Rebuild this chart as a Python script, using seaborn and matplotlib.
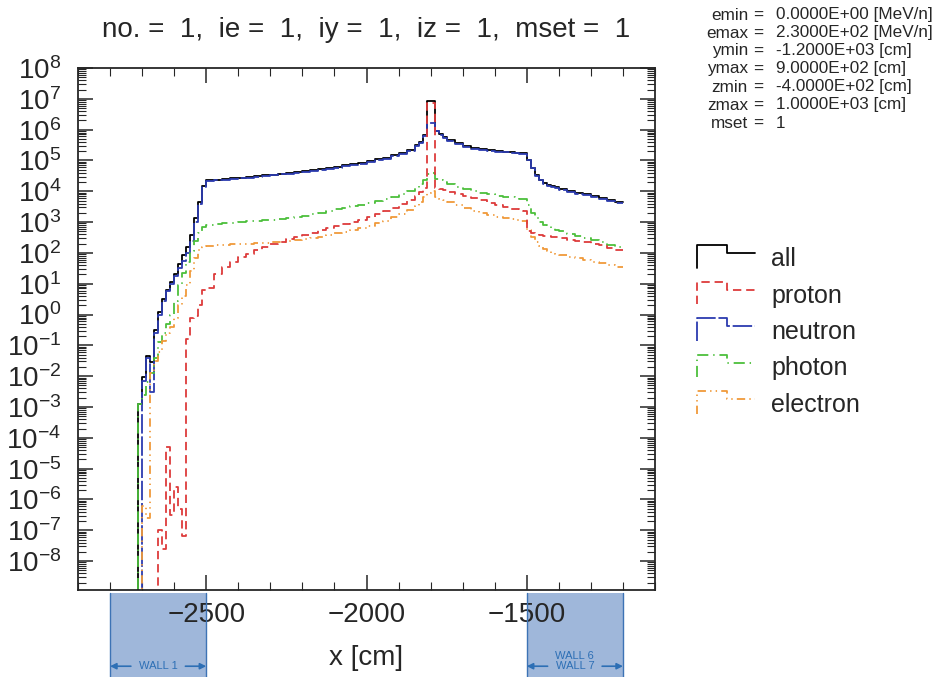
import numpy as np
import matplotlib
matplotlib.use("Agg")
import matplotlib.pyplot as plt
import matplotlib.transforms as mtransforms
from matplotlib.lines import Line2D
from matplotlib.legend_handler import HandlerLine2D
from matplotlib.patches import Rectangle
from matplotlib.ticker import FixedLocator, LogLocator, MultipleLocator, NullFormatter
import seaborn as sns

# mesh along x [cm]: fine bins where the flux changes fast, coarser elsewhere
EDGES = np.concatenate([
    [-2800.0],
    np.arange(-2712.5, -2500, 12.5),
    np.arange(-2500, -1850, 25.0),
    np.arange(-1850, -1750, 12.5),
    np.arange(-1750, -1550, 25.0),
    np.arange(-1550, -1400, 12.5),
    np.arange(-1400, -1199, 25.0),
])

# log10 of the flux per bin (None = empty bin)
neutron_exp = [
    None,
    None, -2.15, -1.4, -2.5, -0.6, 0.0, 0.45, 0.75, 1.0, 1.25, 1.5, 1.75, 2.0, 2.4, 3.0, 3.6, 4.15,
    4.33, 4.36, 4.38, 4.40, 4.42, 4.44, 4.47, 4.50, 4.52, 4.55, 4.57, 4.60, 4.63,
    4.66, 4.69, 4.73, 4.77, 4.81, 4.85, 4.90, 4.95, 5.00, 5.06, 5.13, 5.21, 5.30,
    5.47, 5.58, 5.80, 6.20, 6.20, 5.95, 5.83, 5.72,
    5.62, 5.52, 5.44, 5.38, 5.34, 5.31, 5.28, 5.26,
    5.24, 5.23, 5.22, 5.21, 5.00, 4.74, 4.50, 4.35, 4.25, 4.18, 4.13, 4.09,
    4.04, 3.98, 3.92, 3.87, 3.81, 3.75, 3.69, 3.62,
]
proton_exp = [
    None,
    None, None, None, None, None, -7.0, -7.6, -4.3, -6.5, -5.6, -6.3, -7.2, -0.8, -0.1, -0.05, 0.3, 0.8,
    0.85, 1.30, 1.55, 1.72, 1.86, 1.98, 2.09, 2.19, 2.28, 2.36, 2.44, 2.52, 2.59,
    2.66, 2.73, 2.80, 2.87, 2.94, 3.01, 3.08, 3.16, 3.25, 3.35, 3.46, 3.58, 3.72,
    3.86, 3.97, 4.10, 6.85, 6.85, 4.12, 4.07, 4.03,
    3.98, 3.92, 3.85, 3.78, 3.71, 3.63, 3.55, 3.48,
    3.43, 3.41, 3.39, 3.37, 2.70, 2.64, 2.61, 2.58, 2.56, 2.54, 2.52, 2.50,
    2.47, 2.43, 2.39, 2.35, 2.30, 2.24, 2.17, 2.10,
]
photon_exp = [
    None,
    -2.9, -2.6, -2.2, -1.9, -1.4, -0.9, -0.6, -0.3, 0.0, 0.45, 0.95, 1.35, 1.7, 2.05, 2.4, 2.65, 2.85,
    2.92, 2.94, 2.96, 2.98, 3.00, 3.02, 3.04, 3.06, 3.08, 3.10, 3.13, 3.17, 3.21,
    3.26, 3.31, 3.36, 3.41, 3.46, 3.51, 3.56, 3.61, 3.67, 3.74, 3.82, 3.92, 4.02,
    4.12, 4.22, 4.35, 4.55, 4.60, 4.40, 4.35, 4.30,
    4.22, 4.13, 4.06, 4.00, 3.95, 3.90, 3.86, 3.83,
    3.80, 3.78, 3.76, 3.74, 3.55, 3.30, 3.12, 3.00, 2.92, 2.86, 2.80, 2.75,
    2.70, 2.62, 2.55, 2.49, 2.42, 2.35, 2.27, 2.18,
]
electron_exp = [
    None,
    None, -6.2, -6.6, -1.9, -1.5, -1.2, -0.85, -0.6, -0.4, -0.1, 0.3, 0.6, 0.95, 1.4, 1.85, 2.1, 2.2,
    2.23, 2.25, 2.27, 2.28, 2.29, 2.30, 2.31, 2.32, 2.34, 2.36, 2.38, 2.41, 2.44,
    2.48, 2.53, 2.58, 2.63, 2.69, 2.75, 2.81, 2.88, 2.96, 3.05, 3.15, 3.26, 3.38,
    3.52, 3.65, 3.80, 3.95, 4.00, 3.82, 3.76, 3.71,
    3.64, 3.55, 3.46, 3.37, 3.29, 3.22, 3.16, 3.12,
    3.09, 3.07, 3.05, 3.03, 2.75, 2.50, 2.35, 2.22, 2.12, 2.05, 2.00, 1.96,
    1.92, 1.87, 1.82, 1.77, 1.72, 1.66, 1.60, 1.53,
]

TITLE = "no. =  1,  ie =  1,  iy =  1,  iz =  1,  mset =  1"
PARAM_NAMES = ["emin", "emax", "ymin", "ymax", "zmin", "zmax", "mset"]
PARAM_VALUES = ["0.0000E+00 [MeV/n]", "2.3000E+02 [MeV/n]", "-1.2000E+03 [cm]",
                "9.0000E+02 [cm]", "-4.0000E+02 [cm]", "1.0000E+03 [cm]", "1"]
WALLS = [(-2800, -2500, ["WALL 1"]), (-1500, -1200, ["WALL 6", "WALL 7"])]
Y_DECADES = np.arange(-8, 9)


def to_flux(exps):
    return np.array([0.0 if e is None else 10.0 ** e for e in exps])


neutron = to_flux(neutron_exp)
proton = to_flux(proton_exp)
photon = to_flux(photon_exp)
electron = to_flux(electron_exp)
total = neutron + proton + photon + electron

series = [
    ("all", total, "black", None),
    ("proton", proton, "#dd3b3b", (6, 3.5)),
    ("neutron", neutron, "#2c3cb0", (14, 2)),
    ("photon", photon, "#4cbf3c", (8, 3.5, 1, 3.5)),
    ("electron", electron, "#f09a3a", (6, 3, 1, 3, 1, 3)),
]
draw_order = ["all", "neutron", "photon", "electron", "proton"]


class StepHandler(HandlerLine2D):
    def create_artists(self, legend, orig_handle, xdescent, ydescent,
                       width, height, fontsize, trans):
        x0 = -xdescent
        x1 = x0 + width
        xm = x0 + 0.52 * width
        y_lo = -ydescent - 0.1 * height
        y_hi = -ydescent + 1.2 * height
        y_mid = -ydescent + 0.72 * height
        line = Line2D([x0, x0, xm, xm, x1], [y_lo, y_hi, y_hi, y_mid, y_mid])
        self.update_prop(line, orig_handle, legend)
        line.set_transform(trans)
        return [line]


def line_style(dash):
    return "-" if dash is None else (0, dash)


sns.set_style("ticks")
plt.rcParams["font.family"] = ["Liberation Sans", "DejaVu Sans"]
plt.rcParams["mathtext.fontset"] = "custom"
plt.rcParams["mathtext.rm"] = "Liberation Sans"
plt.rcParams["mathtext.it"] = "Liberation Sans:italic"
plt.rcParams["mathtext.bf"] = "Liberation Sans:bold"
plt.rcParams["lines.scale_dashes"] = False

fig = plt.figure(figsize=(9.36, 6.77), dpi=100)
ax = fig.add_axes([78 / 936, 1 - 590 / 677, (655 - 78) / 936, (590 - 68) / 677])

style = {name: (vals, color, dash) for name, vals, color, dash in series}
for name in draw_order:
    vals, color, dash = style[name]
    # histogram outline: one value per bin, repeated at the closing edge
    sns.lineplot(x=EDGES, y=np.append(vals, vals[-1]), drawstyle="steps-post",
                 estimator=None, sort=False, color=color, linewidth=1.3,
                 linestyle=line_style(dash), ax=ax, legend=False)

ax.set_yscale("log")
ax.set_xlim(-2900, -1100)
ax.set_ylim(1.15e-9, 1e8)
ax.yaxis.set_major_locator(FixedLocator(10.0 ** Y_DECADES))
ax.yaxis.set_minor_locator(LogLocator(base=10, subs=np.arange(2, 10), numticks=400))
ax.yaxis.set_minor_formatter(NullFormatter())
ax.xaxis.set_major_locator(MultipleLocator(500))
ax.xaxis.set_minor_locator(MultipleLocator(100))
ax.tick_params(which="both", direction="in", top=True, right=True)
ax.tick_params(which="major", length=10.5, width=1.1, labelsize=20)
ax.tick_params(which="minor", length=5.5, width=0.8)
ax.tick_params(axis="x", which="major", pad=9)
ax.tick_params(axis="y", which="major", pad=12)
for sp in ax.spines.values():
    sp.set_linewidth(1.3)

ax.set_ylabel("")
ax.set_xlabel("x [cm]", fontsize=20, labelpad=12)
ax.set_title(TITLE, fontsize=20, pad=22)

# wall regions under the x axis
trans = mtransforms.blended_transform_factory(ax.transData, ax.transAxes)
for x0, x1, names in WALLS:
    ax.add_patch(Rectangle((x0, -0.2), x1 - x0, 0.194, transform=trans, clip_on=False,
                           facecolor="#9fb7da", edgecolor="none", zorder=0.5))
    for xe in (x0, x1):
        ax.plot([xe, xe], [-0.2, -0.006], transform=trans, clip_on=False,
                color="#3d73b5", lw=1.0, zorder=0.6)
    xc = (x0 + x1) / 2
    y_arrow = -0.146
    for xa, xb in ((x0 + 65, x0), (x1 - 65, x1)):
        ax.annotate("", xy=(xb, y_arrow), xytext=(xa, y_arrow), xycoords=trans,
                    textcoords=trans, annotation_clip=False,
                    arrowprops=dict(arrowstyle="-|>", color="#2d6fb5", lw=1.2,
                                    mutation_scale=9, shrinkA=0, shrinkB=0))
    ys = [-0.146] if len(names) == 1 else [-0.127, -0.146]
    for nm, yt in zip(names, ys):
        ax.text(xc, yt, nm, transform=trans, ha="center", va="center",
                fontsize=8, color="#2d6fb5", clip_on=False)

# legend with step-shaped keys
handles = [Line2D([0], [0], color=style[n][1], lw=1.3, linestyle=line_style(style[n][2]))
           for n, _, _, _ in series]
labels = [n for n, _, _, _ in series]
fig.legend(handles, labels, loc="upper left", bbox_to_anchor=(697 / 936, 1 - 247 / 677),
           frameon=False, fontsize=18, handlelength=2.3, handletextpad=0.68,
           labelspacing=0.5, borderaxespad=0, borderpad=0,
           handler_map={Line2D: StepHandler()})

# run parameters, upper right
for i, (nm, val) in enumerate(zip(PARAM_NAMES, PARAM_VALUES)):
    yy = 1 - (15 + 18 * i) / 677
    fig.text(748 / 936, yy, nm, ha="right", va="center", fontsize=12.3)
    fig.text(758 / 936, yy, "=", ha="center", va="center", fontsize=12.3)
    fig.text(776 / 936, yy, val, ha="left", va="center", fontsize=12.3)

fig.savefig("out.png", dpi=100)
